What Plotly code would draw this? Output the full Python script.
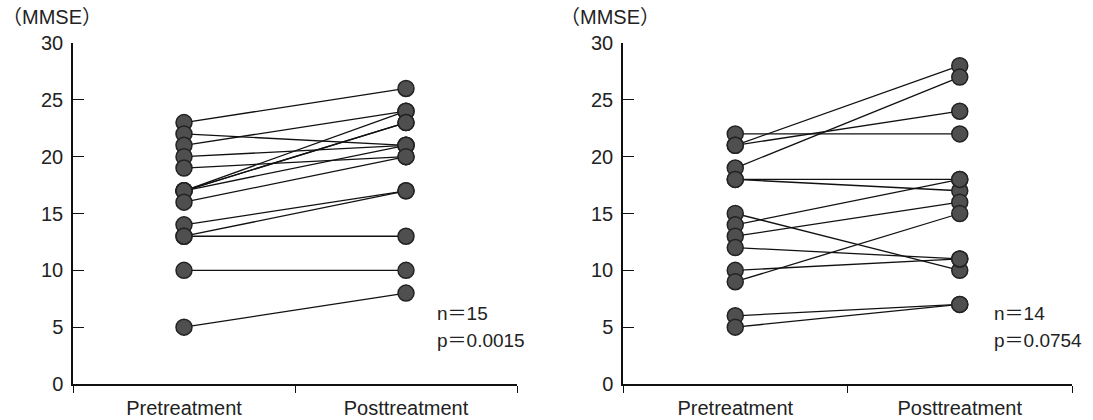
import plotly.graph_objects as go

W, H = 1093, 420

categories = ["Pretreatment", "Posttreatment"]
left_pre = [23, 22, 21, 20, 19, 17, 17, 17, 17, 16, 14, 13, 13, 10, 5]
left_post = [26, 21, 24, 21, 20, 24, 23, 23, 21, 20, 17, 17, 13, 10, 8]
right_pre = [22, 21, 21, 19, 18, 18, 15, 14, 13, 12, 10, 9, 6, 5]
right_post = [22, 28, 24, 27, 18, 17, 10, 18, 16, 11, 11, 15, 7, 7]
y_ticks = [0, 5, 10, 15, 20, 25, 30]
y_label = "（MMSE）"
left_stats = ["n＝15", "p＝0.0015"]
right_stats = ["n＝14", "p＝0.0754"]

FONT = "Liberation Sans, Arial, Noto Sans CJK JP, sans-serif"

def px_x(x):
    return x / W

def px_y(y):
    return 1 - y / H

fig = go.Figure()

panels = [
    (left_pre, left_post, "x", "y"),
    (right_pre, right_post, "x2", "y2"),
]
for pre, post, xa, ya in panels:
    for a, b in zip(pre, post):
        fig.add_trace(go.Scatter(
            x=categories, y=[a, b], xaxis=xa, yaxis=ya,
            mode="lines+markers",
            line=dict(color="#111111", width=1.3),
            marker=dict(size=16, color="#4f4f4f", line=dict(color="#222222", width=1.5)),
            showlegend=False, hoverinfo="skip", cliponaxis=False,
        ))

ydom = [px_y(384), px_y(43)]
xdom1 = [px_x(73), px_x(517)]
xdom2 = [px_x(623), px_x(1072)]

xcommon = dict(
    type="category", categoryorder="array", categoryarray=categories,
    range=[-0.5, 1.5], tickson="boundaries", ticks="outside", ticklen=7,
    tickcolor="#111", tickwidth=1.2,
    showline=True, linecolor="#111", linewidth=1.5, showgrid=False, zeroline=False,
    tickfont=dict(family=FONT, size=20, color="#222"), automargin=False,
    ticklabelstandoff=5, fixedrange=True,
)
ycommon = dict(
    range=[0, 30], tickvals=y_ticks, ticks="inside", ticklen=11,
    tickcolor="#111", tickwidth=1.2,
    showline=True, linecolor="#111", linewidth=1.5, showgrid=False, zeroline=False,
    tickfont=dict(family=FONT, size=20, color="#222"), automargin=False,
    ticklabelstandoff=4, fixedrange=True,
)

fig.update_layout(
    width=W, height=H,
    margin=dict(l=0, r=0, t=0, b=0),
    paper_bgcolor="white", plot_bgcolor="white",
    xaxis=dict(domain=xdom1, anchor="y", **xcommon),
    yaxis=dict(domain=ydom, anchor="x", **ycommon),
    xaxis2=dict(domain=xdom2, anchor="y2", **xcommon),
    yaxis2=dict(domain=ydom, anchor="x2", **ycommon),
    showlegend=False,
)

annots = [
    (y_label, 0, 17, 20),
    (y_label, 558, 17, 20),
    (left_stats[0], 435, 313, 19),
    (left_stats[1], 435, 340, 19),
    (right_stats[0], 992, 313, 19),
    (right_stats[1], 992, 340, 19),
]
for text, x, y, size in annots:
    fig.add_annotation(
        text=text, x=px_x(x), y=px_y(y), xref="paper", yref="paper",
        xanchor="left", yanchor="middle", showarrow=False,
        font=dict(family=FONT, size=size, color="#222"),
    )

fig.write_html(
    "out.html",
    config={"displayModeBar": False},
    post_script="document.body.style.margin='0';document.body.style.overflow='hidden';",
)
